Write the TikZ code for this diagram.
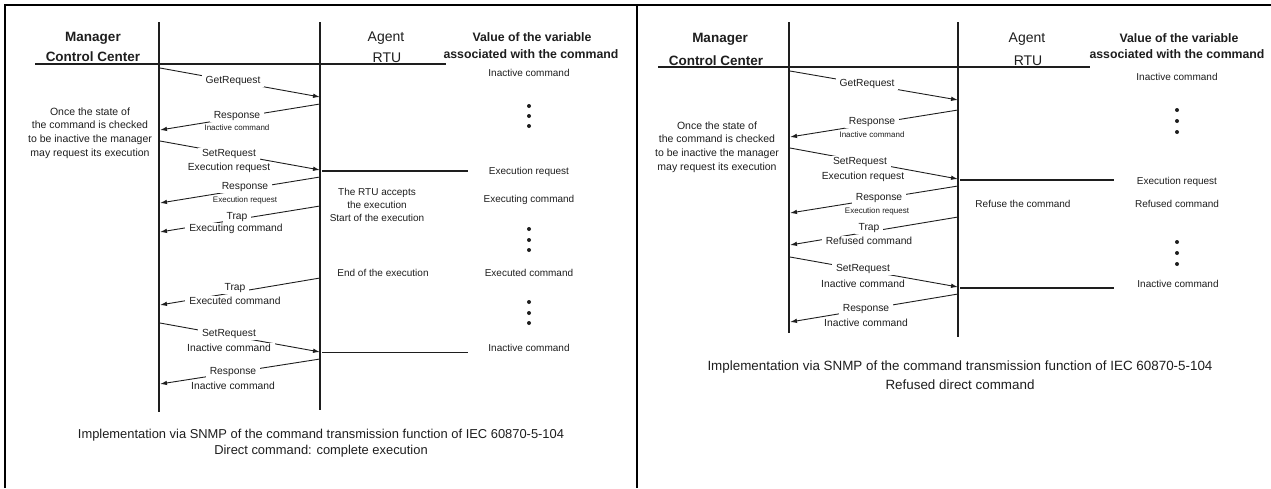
\documentclass[tikz,border=0pt]{standalone}
\usepackage{fontspec}
\setmainfont{Liberation Sans}
\usetikzlibrary{arrows.meta}
\definecolor{ink}{HTML}{1E1E1E}
\tikzset{
  lbl/.style={font=\fontsize{10.3}{12}\selectfont, text=ink, fill=white, inner xsep=4pt, inner ysep=1pt},
  sml/.style={font=\fontsize{8}{10}\selectfont, text=ink, fill=white, inner xsep=4pt, inner ysep=1pt},
  txt/.style={font=\fontsize{10}{12}\selectfont, text=ink, inner sep=0pt},
  note/.style={font=\fontsize{10.5}{13.8}\selectfont, text=ink, inner sep=0pt, align=center},
  hdr/.style={font=\fontsize{14}{16}\selectfont, text=ink, inner sep=0pt},
  hdrb/.style={font=\bfseries\fontsize{13.5}{16}\selectfont, text=ink, inner sep=0pt},
  valb/.style={font=\bfseries\fontsize{12.3}{14}\selectfont, text=ink, inner sep=0pt},
  captxt/.style={font=\fontsize{12.9}{15}\selectfont, text=ink, inner sep=0pt},
  life/.style={draw=ink, line width=1.4pt},
  msg/.style={draw=ink, line width=0.9pt, -{Latex[length=7pt,width=4.5pt]}},
  hline/.style={draw=ink, line width=1.1pt},
  frame/.style={draw=black, line width=2pt},
  dotc/.style={circle, fill=ink, inner sep=0pt, minimum size=4pt},
}
\begin{document}
\begin{tikzpicture}[x=1pt,y=-1pt]
\useasboundingbox (0,0) rectangle (1271,488);
% frame
\coordinate (f1) at (5,488);
\coordinate (f2) at (5,5);
\coordinate (f3) at (1271,5);
\coordinate (f4) at (637,5);
\coordinate (f5) at (637,488);
\draw[frame] (f1) -- (f2) -- (f3);
\draw[frame] (f4) -- (f5);

% ================= LEFT PANEL =================
\coordinate (LmT) at (159,22);
\coordinate (LmB) at (159,412);
\coordinate (LaT) at (320,22);
\coordinate (LaB) at (320,410);
\draw[life] (LmT) -- (LmB);
\draw[life] (LaT) -- (LaB);
\coordinate (LhA) at (35,64);
\coordinate (LhB) at (446,64);
\draw[life] (LhA) -- (LhB);

\node[hdrb] (Lman) at (93,38) {Manager};
\node[hdrb] (Lcc) at (93,57) {Control Center};
\node[hdr] (Lagent) at (386,38) {Agent};
\node[hdr] (Lrtu) at (387,58) {RTU};
\node[valb] (Lval1) at (532,37) {Value of the variable};
\node[valb] (Lval2) at (531,54) {associated with the command};

% messages
\coordinate (L1a) at (160,68);  \coordinate (L1b) at (320,97);
\coordinate (L2a) at (320,104); \coordinate (L2b) at (160,130);
\coordinate (L3a) at (160,141); \coordinate (L3b) at (320,170);
\coordinate (L4a) at (320,177); \coordinate (L4b) at (160,203);
\coordinate (L5a) at (320,206); \coordinate (L5b) at (160,232);
\coordinate (L6a) at (320,278); \coordinate (L6b) at (160,305);
\coordinate (L7a) at (160,323); \coordinate (L7b) at (320,352);
\coordinate (L8a) at (320,359); \coordinate (L8b) at (160,384);
\draw[msg] (L1a) -- (L1b);
\draw[msg] (L2a) -- (L2b);
\draw[msg] (L3a) -- (L3b);
\draw[msg] (L4a) -- (L4b);
\draw[msg] (L5a) -- (L5b);
\draw[msg] (L6a) -- (L6b);
\draw[msg] (L7a) -- (L7b);
\draw[msg] (L8a) -- (L8b);

\node[lbl] (L1t) at (233,81) {GetRequest};
\node[lbl] (L2t) at (237,116) {Response};
\node[sml] (L2s) at (237,128) {Inactive command};
\node[lbl] (L3t) at (229,154) {SetRequest};
\node[lbl] (L3s) at (229,167.5) {Execution request};
\node[lbl] (L4t) at (245,187.5) {Response};
\node[sml] (L4s) at (245,200.5) {Execution request};
\node[lbl] (L5t) at (237,217) {Trap};
\node[lbl] (L5s) at (236,228.5) {Executing command};
\node[lbl] (L6t) at (235,288) {Trap};
\node[lbl] (L6s) at (235,301) {Executed command};
\node[lbl] (L7t) at (229,334) {SetRequest};
\node[lbl] (L7s) at (229,348) {Inactive command};
\node[lbl] (L8t) at (233,372) {Response};
\node[lbl] (L8s) at (233,386) {Inactive command};

\node[note] (Lnote) at (90,133) {Once the state of\\the command is checked\\to be inactive the manager\\may request its execution};
\node[note, font=\fontsize{10}{13}\selectfont] (Lrtu1) at (377,205) {The RTU accepts\\the execution\\Start of the execution};
\node[txt] (Lend) at (383,273) {End of the execution};

% value column
\node[txt] (Lv1) at (529,73) {Inactive command};
\node[dotc] (Ld1) at (529,106) {};
\node[dotc] (Ld2) at (529,116) {};
\node[dotc] (Ld3) at (529,126) {};
\coordinate (Lx1a) at (322,171); \coordinate (Lx1b) at (468,171);
\draw[hline] (Lx1a) -- (Lx1b);
\node[txt] (Lv2) at (529,172) {Execution request};
\node[txt] (Lv3) at (529,200) {Executing command};
\node[dotc] (Ld4) at (529,229) {};
\node[dotc] (Ld5) at (529,240) {};
\node[dotc] (Ld6) at (529,250) {};
\node[txt] (Lv4) at (529,273) {Executed command};
\node[dotc] (Ld7) at (529,302) {};
\node[dotc] (Ld8) at (529,313) {};
\node[dotc] (Ld9) at (529,323) {};
\coordinate (Lx2a) at (322,352.5); \coordinate (Lx2b) at (468,352.5);
\draw[hline] (Lx2a) -- (Lx2b);
\node[txt] (Lv5) at (529,348) {Inactive command};

\node[captxt] (Lcap1) at (321,435) {Implementation via SNMP of the command transmission function of IEC 60870-5-104};
\node[captxt] (Lcap2) at (321,451) {Direct command: complete execution};

% ================= RIGHT PANEL =================
\coordinate (RmT) at (789,22);
\coordinate (RmB) at (789,333);
\coordinate (RaT) at (958,22);
\coordinate (RaB) at (958,337);
\draw[life] (RmT) -- (RmB);
\draw[life] (RaT) -- (RaB);
\coordinate (RhA) at (658,67);
\coordinate (RhB) at (1090,67);
\draw[life] (RhA) -- (RhB);

\node[hdrb] (Rman) at (720,39) {Manager};
\node[hdrb] (Rcc) at (716,61) {Control Center};
\node[hdr] (Ragent) at (1027,39) {Agent};
\node[hdr] (Rrtu) at (1028,61) {RTU};
\node[valb] (Rval1) at (1179,38) {Value of the variable};
\node[valb] (Rval2) at (1177,54) {associated with the command};

\coordinate (R1a) at (790,71);  \coordinate (R1b) at (958,100);
\coordinate (R2a) at (958,110); \coordinate (R2b) at (790,137);
\coordinate (R3a) at (790,148); \coordinate (R3b) at (958,179);
\coordinate (R4a) at (958,186); \coordinate (R4b) at (790,213);
\coordinate (R5a) at (958,217); \coordinate (R5b) at (790,245);
\coordinate (R6a) at (790,257); \coordinate (R6b) at (958,287);
\coordinate (R7a) at (958,294); \coordinate (R7b) at (790,322);
\draw[msg] (R1a) -- (R1b);
\draw[msg] (R2a) -- (R2b);
\draw[msg] (R3a) -- (R3b);
\draw[msg] (R4a) -- (R4b);
\draw[msg] (R5a) -- (R5b);
\draw[msg] (R6a) -- (R6b);
\draw[msg] (R7a) -- (R7b);

\node[lbl] (R1t) at (867,84) {GetRequest};
\node[lbl] (R2t) at (872,122) {Response};
\node[sml] (R2s) at (872,135) {Inactive command};
\node[lbl] (R3t) at (860,162) {SetRequest};
\node[lbl] (R3s) at (863,177) {Execution request};
\node[lbl] (R4t) at (879,198) {Response};
\node[sml] (R4s) at (877,211) {Execution request};
\node[lbl] (R5t) at (869,228) {Trap};
\node[lbl] (R5s) at (869,241) {Refused command};
\node[lbl] (R6t) at (863,269) {SetRequest};
\node[lbl] (R6s) at (863,284) {Inactive command};
\node[lbl] (R7t) at (866,309) {Response};
\node[lbl] (R7s) at (866,323) {Inactive command};

\node[note] (Rnote) at (717,147) {Once the state of\\the command is checked\\to be inactive the manager\\may request its execution};
\node[txt] (Rref) at (1023,204) {Refuse the command};

\node[txt] (Rv1) at (1177,77) {Inactive command};
\node[dotc] (Rd1) at (1177,110) {};
\node[dotc] (Rd2) at (1177,121) {};
\node[dotc] (Rd3) at (1177,132) {};
\coordinate (Rx1a) at (960,180); \coordinate (Rx1b) at (1114,180);
\draw[hline] (Rx1a) -- (Rx1b);
\node[txt] (Rv2) at (1177,182) {Execution request};
\node[txt] (Rv3) at (1177,204) {Refused command};
\node[dotc] (Rd4) at (1177,242) {};
\node[dotc] (Rd5) at (1177,253) {};
\node[dotc] (Rd6) at (1177,264) {};
\coordinate (Rx2a) at (960,288); \coordinate (Rx2b) at (1114,288);
\draw[hline] (Rx2a) -- (Rx2b);
\node[txt] (Rv4) at (1178,284) {Inactive command};

\node[captxt, font=\fontsize{13.4}{15}\selectfont] (Rcap1) at (960,367) {Implementation via SNMP of the command transmission function of IEC 60870-5-104};
\node[captxt, font=\fontsize{13.4}{15}\selectfont] (Rcap2) at (960,385) {Refused direct command};
\end{tikzpicture}
\end{document}
